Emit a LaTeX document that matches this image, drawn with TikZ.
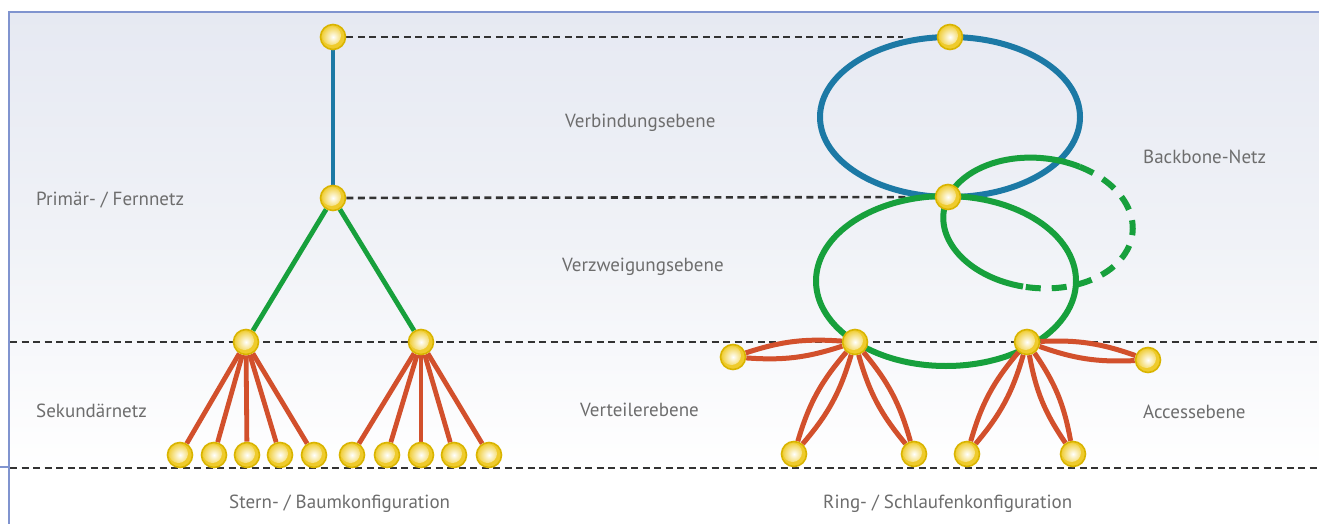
\documentclass[tikz,border=0pt]{standalone}
\usepackage{fontspec}
\setmainfont{PT Sans}
\usetikzlibrary{calc}
\definecolor{bgtop}{HTML}{E6E9F2}
\definecolor{bgmid}{HTML}{F0F2F7}
\definecolor{framecol}{HTML}{8094CF}
\definecolor{netblue}{HTML}{1C79A5}
\definecolor{netgreen}{HTML}{17A03C}
\definecolor{netred}{HTML}{D2502C}
\definecolor{goldrim}{HTML}{D9B400}
\definecolor{goldfill}{HTML}{EFCB2C}
\definecolor{guide}{HTML}{333333}
\definecolor{labelgray}{HTML}{6D6D6D}
\pgfdeclarelayer{back}
\pgfdeclarelayer{guides}
\pgfdeclarelayer{edges}
\pgfsetlayers{back,guides,edges,main}
\begin{document}
\begin{tikzpicture}[x=1pt,y=-1pt,
  dot/.style={circle, minimum size=25pt, inner sep=0pt, draw=goldrim, line width=1.6pt,
    fill=goldfill,
    path picture={\shade[inner color=white, outer color=goldfill]
      ([xshift=-1.5pt,yshift=1.5pt]path picture bounding box.center) circle[radius=9.5pt];}},
  guideline/.style={draw=guide, line width=2.6pt, dash pattern=on 7pt off 4.5pt},
  trunk/.style={draw=netblue, line width=4.8pt},
  branch/.style={draw=netgreen, line width=4.8pt},
  twig/.style={draw=netred, line width=4.8pt},
  bluering/.style={draw=netblue, line width=6pt},
  greenring/.style={draw=netgreen, line width=6pt},
  greenringdash/.style={draw=netgreen, line width=6pt, dash pattern=on 15pt off 11pt},
  loop/.style={draw=netred, line width=5pt},
  framel/.style={draw=framecol, line width=2.4pt},
  lbl/.style={anchor=base west, text=labelgray, font=\fontsize{19}{22}\selectfont, inner sep=0pt}
]
\useasboundingbox (0,0) rectangle (1319,524);

% background and frame
\begin{pgfonlayer}{back}
  \fill[white] (0,0) rectangle (1319,524);
  \shade[top color=bgtop, bottom color=white, middle color=bgmid] (9,12) rectangle (1319,470);
  \draw[framel] (9,524) -- (9,12) -- (1319,12);
  \draw[framel] (0,467) -- (9,467);
\end{pgfonlayer}

% ---------- tree (star) configuration ----------
\node[dot] (t1) at (333,37) {};
\node[dot] (t2) at (333,198) {};
\node[dot] (ta) at (246,342) {};
\node[dot] (tb) at (421,342) {};
\foreach \i/\x in {1/180,2/214,3/247,4/280,5/314}
  \node[dot] (la\i) at (\x,455) {};
\foreach \i/\x in {1/352,2/387,3/421,4/454,5/489}
  \node[dot] (lb\i) at (\x,455) {};

% ---------- ring configuration ----------
\coordinate (blueC) at (950,117);
\coordinate (greenC) at (946,281);
\coordinate (loopC) at (1038,223);
\node[dot] (r1) at (950,37) {};
\node[dot] (r2) at (948,197) {};
\node[dot] (ra) at (855,342) {};
\node[dot] (rb) at (1027,342) {};
\node[dot] (ral) at (733,357) {};
\node[dot] (ra1) at (794,454) {};
\node[dot] (ra2) at (914,454) {};
\node[dot] (rbr) at (1148,360) {};
\node[dot] (rb1) at (967,454) {};
\node[dot] (rb2) at (1073,454) {};

% level guides
\coordinate (g1e) at (903,37);
\coordinate (g3w) at (10,342);
\coordinate (g3e) at (1319,342);
\coordinate (g4w) at (10,468);
\coordinate (g4e) at (1319,468);
\begin{pgfonlayer}{guides}
  \draw[guideline] (t1) -- (g1e);
  \draw[guideline] (t2) -- (r2);
  \draw[guideline] (g3w) -- (g3e);
  \draw[guideline] (g4w) -- (g4e);
\end{pgfonlayer}

\begin{pgfonlayer}{edges}
  % tree links
  \draw[trunk] (t1) -- (t2);
  \draw[branch] (t2) -- (ta);
  \draw[branch] (t2) -- (tb);
  \foreach \i in {1,...,5} {
    \draw[twig] (ta) -- (la\i);
    \draw[twig] (tb) -- (lb\i);
  }
  % rings
  \draw[bluering] (blueC) ellipse[x radius=130, y radius=80];
  \draw[greenring] (greenC) ellipse[x radius=130, y radius=85];
  \begin{scope}[rotate around={-6:(loopC)}]
    \draw[greenring] (loopC) ++({95*cos(95)},{65*sin(95)})
      arc[start angle=95, end angle=292, x radius=95, y radius=65];
    \draw[greenringdash] (loopC) ++({95*cos(292)},{65*sin(292)})
      arc[start angle=292, end angle=455, x radius=95, y radius=65];
  \end{scope}
  % access loops
  \foreach \a/\b/\k in {ra/ral/11, ra/ra1/12, ra/ra2/12, rb/rbr/11, rb/rb1/12, rb/rb2/12} {
    \draw[loop] (\a) to[bend left=\k] (\b);
    \draw[loop] (\a) to[bend right=\k] (\b);
  }
\end{pgfonlayer}

% labels
\node[lbl] (l1) at (565,128) {Verbindungsebene};
\node[lbl] (l2) at (1143,164) {Backbone-Netz};
\node[lbl] (l3) at (36,205) {Primär- / Fernnetz};
\node[lbl] (l4) at (562,271) {Verzweigungsebene};
\node[lbl] (l5) at (36,417) {Sekundärnetz};
\node[lbl] (l6) at (580,416) {Verteilerebene};
\node[lbl] (l7) at (1143,418) {Accessebene};
\node[lbl] (l8) at (229,508) {Stern- / Baumkonfiguration};
\node[lbl] (l9) at (823,508) {Ring- / Schlaufenkonfiguration};
\end{tikzpicture}
\end{document}
